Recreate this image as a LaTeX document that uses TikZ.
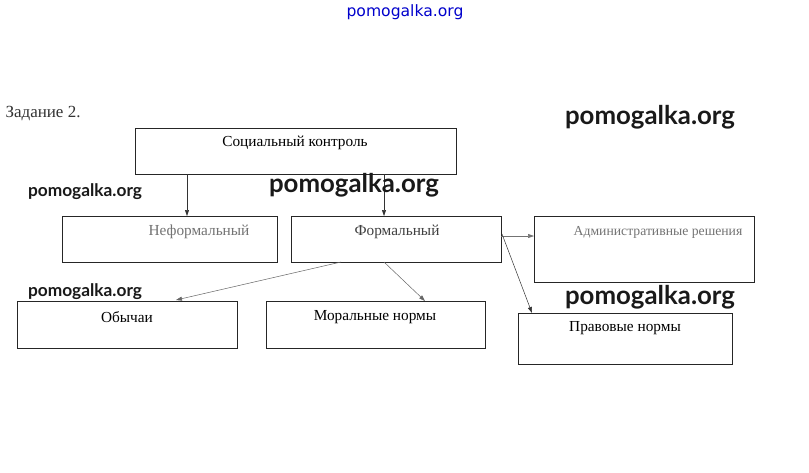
\documentclass[tikz,border=0pt]{standalone}
\usepackage{fontspec}
\setmainfont{Liberation Serif}
\newfontfamily\wm{Lato}
\newfontfamily\wmtop{DejaVu Sans}
\usetikzlibrary{arrows.meta}
\begin{document}
\begin{tikzpicture}[x=1pt,y=-1pt,
  box/.style={draw=black!85,line width=0.7pt,anchor=north west,inner sep=0pt},
  lbl/.style={font=\fontsize{15.3}{17}\selectfont,anchor=center},
  wmark/.style={font=\wm\bfseries\fontsize{25.8}{28}\selectfont,anchor=center,text=black!90},
  wsmall/.style={font=\wm\bfseries\fontsize{17.3}{19}\selectfont,anchor=center,text=black!90},
  arr/.style={draw=black!80,line width=0.5pt,-{Triangle[length=6pt,width=4pt]}}]
\useasboundingbox[fill=white] (0,0) rectangle (809,472);
% boxes
\node[box,minimum width=321pt,minimum height=46pt] (soc) at (135,128) {};
\node[box,minimum width=215pt,minimum height=46pt] (inf) at (62,216) {};
\node[box,minimum width=210pt,minimum height=46pt] (frm) at (291,216) {};
\node[box,minimum width=220pt,minimum height=66pt] (adm) at (534,216) {};
\node[box,minimum width=220pt,minimum height=47pt] (obi) at (17,301) {};
\node[box,minimum width=219pt,minimum height=47pt] (mor) at (266,301) {};
\node[box,minimum width=214pt,minimum height=51pt] (pra) at (518,313) {};
% labels
\node[lbl] (tsoc) at (295,143) {Социальный контроль};
\node[lbl,text=black!55] (tinf) at (199,232) {Неформальный};
\node[lbl,text=black!75] (tfrm) at (397,232) {Формальный};
\node[lbl,text=black!55,font=\fontsize{13.7}{16}\selectfont] (tadm) at (658,232) {Административные решения};
\node[lbl] (tobi) at (127,317) {Обычаи};
\node[lbl] (tmor) at (375,317) {Моральные нормы};
\node[lbl] (tpra) at (625,328) {Правовые нормы};
\node[font=\fontsize{17}{19}\selectfont,anchor=west,text=black!80] (task) at (2,114) {Задание 2.};
% connectors
\coordinate (s1) at (187,174);
\coordinate (s2) at (384,174);
\coordinate (i1) at (187,216);
\coordinate (f1) at (384,216);
\draw[arr] (s1) -- (i1);
\draw[arr] (s2) -- (f1);
\coordinate (fr) at (501,236);
\coordinate (al) at (534,236);
\draw[arr,draw=black!55] (fr) -- (al);
\coordinate (fr2) at (502,234);
\coordinate (pt) at (532,313);
\draw[arr] (fr2) -- (pt);
\coordinate (fb1) at (341,262);
\coordinate (ot) at (176,300);
\draw[arr,draw=black!60] (fb1) -- (ot);
\coordinate (fb2) at (384,262);
\coordinate (mt) at (425,301);
\draw[arr,draw=black!60] (fb2) -- (mt);
% watermarks
\node[font=\wmtop\fontsize{15.6}{17}\selectfont,text=blue!80!black,anchor=center] (w0) at (405,12) {pomogalka.org};
\node[wmark] (w1) at (650,117) {pomogalka.org};
\node[wmark] (w2) at (354,185) {pomogalka.org};
\node[wsmall] (w3) at (85,192) {pomogalka.org};
\node[wsmall] (w4) at (85,292) {pomogalka.org};
\node[wmark] (w5) at (650,297) {pomogalka.org};
\end{tikzpicture}
\end{document}
